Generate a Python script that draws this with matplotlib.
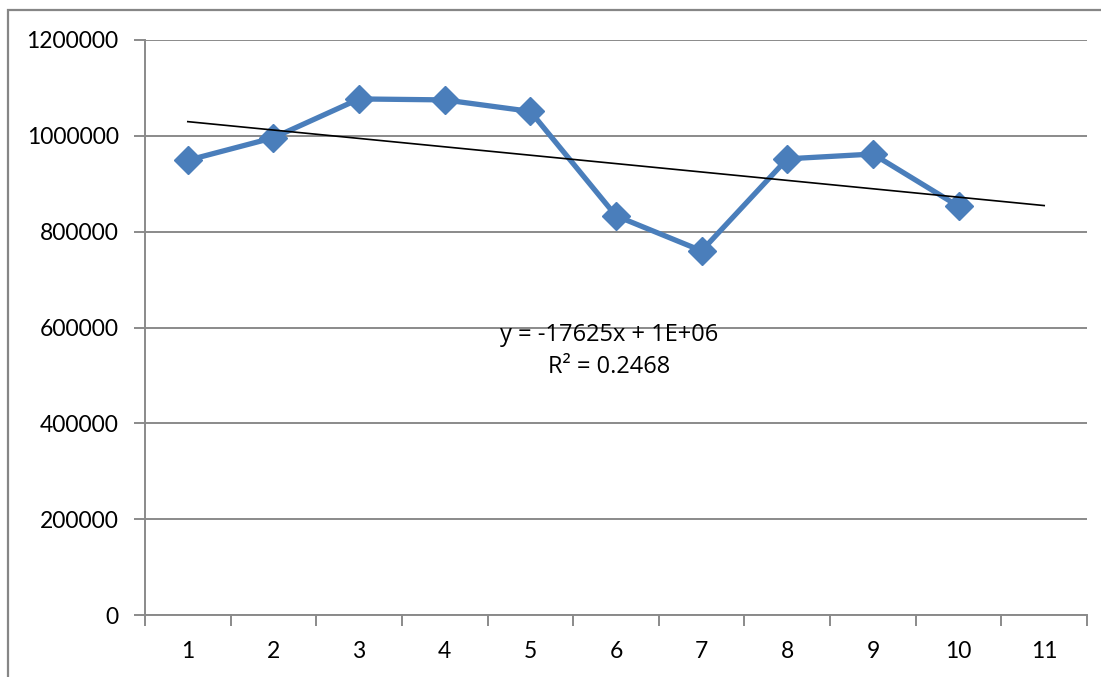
import matplotlib
matplotlib.use("Agg")
import matplotlib.pyplot as plt
import numpy as np
from matplotlib.patches import Rectangle

categories = [1, 2, 3, 4, 5, 6, 7, 8, 9, 10, 11]
x_values = [1, 2, 3, 4, 5, 6, 7, 8, 9, 10]
y_values = [949000, 996000, 1077000, 1075000, 1051000, 833000, 760000, 952000, 962000, 853000]
y_ticks = [0, 200000, 400000, 600000, 800000, 1000000, 1200000]
eq_text = "y = -17625x + 1E+06\nR² = 0.2468"

plt.rcParams['font.family'] = ['Lato', 'DejaVu Sans']

fig = plt.figure(figsize=(11.01, 6.77), dpi=100)
ax = fig.add_axes([145/1101, 1-615/677, (1087-145)/1101, (615-40)/677])

grid_c = '#8a8a8a'
# chart frame
fig.patches.append(Rectangle((8/1101, -0.05), 1.2, 1-10/677+0.05, transform=fig.transFigure,
                             fill=False, edgecolor='#868686', lw=1.6, zorder=0))

ax.set_xlim(0.5, 11.5)
ax.set_ylim(0, 1200000)
ax.set_yticks(y_ticks)
ax.set_yticklabels([str(v) for v in y_ticks])
ax.yaxis.grid(True, color=grid_c, lw=1.4)
ax.set_axisbelow(True)

ax.set_xticks([c - 0.5 for c in categories] + [categories[-1] + 0.5])
ax.set_xticklabels([])
ax.set_xticks(categories, minor=True)
ax.set_xticklabels([str(c) for c in categories], minor=True)
ax.tick_params(axis='x', which='major', length=8, width=1.4, color=grid_c, direction='out')
ax.tick_params(axis='x', which='minor', length=0, pad=19, labelsize=16.5)
ax.tick_params(axis='y', length=8, width=1.4, color=grid_c, pad=11, labelsize=16.5)

for s in ['top', 'right']:
    ax.spines[s].set_visible(False)
for s in ['left', 'bottom']:
    ax.spines[s].set_color(grid_c)
    ax.spines[s].set_linewidth(1.4)

ax.plot(x_values, y_values, color='#4a7ebb', lw=3.8, marker='D', ms=14,
        markerfacecolor='#4a7ebb', markeredgecolor='#4a7ebb', zorder=3)

coef = np.polyfit(x_values, y_values, 1)
tx = np.array([categories[0], categories[-1]])
ax.plot(tx, np.polyval(coef, tx), color='black', lw=1.2, zorder=4)

ax.text(5.92, 551000, eq_text, ha='center', va='center', fontsize=17,
        linespacing=1.45, family=['Open Sans', 'DejaVu Sans'])

fig.savefig('out.png', dpi=100)
